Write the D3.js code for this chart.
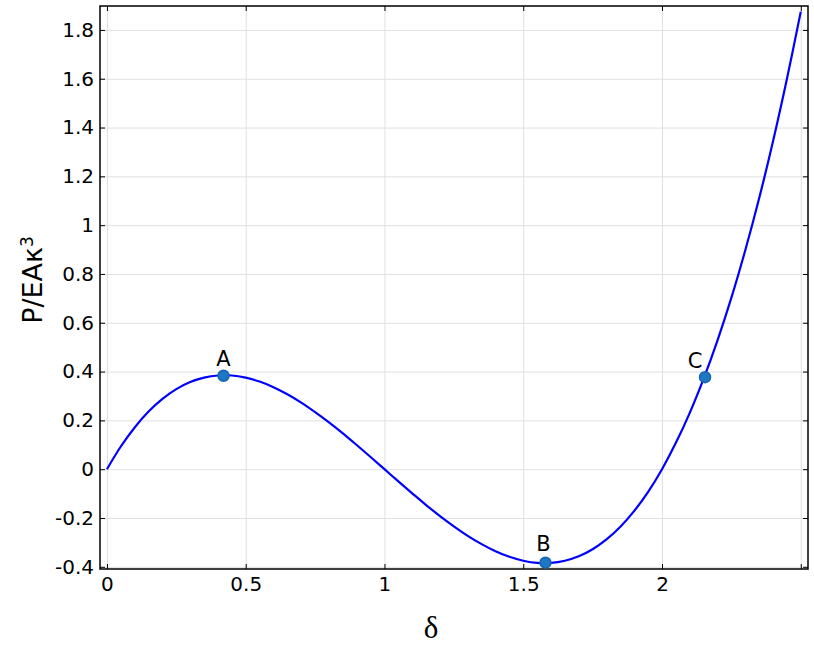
<!DOCTYPE html>
<meta charset="utf-8">
<style>
body { margin: 0; background: #fff; }
.grid .tick line { stroke: #e0e0e0; stroke-width: 1; }
.grid path { display: none; }
.frame { fill: none; stroke: #000; stroke-width: 1.5; }
.tick text { font-family: "DejaVu Sans", sans-serif; font-size: 20px; fill: #000; }
.tick line { stroke: #000; }
.curve { fill: none; stroke: #0000ff; stroke-width: 2.2; }
.pt { fill: #1f77c4; stroke: #1565b0; stroke-width: 1.5; }
.lbl { font-family: "DejaVu Sans", sans-serif; font-size: 21px; fill: #000; }
</style>
<svg width="814" height="664"></svg>
<script src="https://d3js.org/d3.v7.min.js"></script>
<script>
// curve samples
var delta = [0, 0.05, 0.1, 0.15, 0.2, 0.25, 0.3, 0.35, 0.4, 0.45, 0.5, 0.55, 0.6, 0.65, 0.7, 0.75, 0.8, 0.85, 0.9, 0.95,
             1, 1.05, 1.1, 1.15, 1.2, 1.25, 1.3, 1.35, 1.4, 1.45, 1.5, 1.55, 1.6, 1.65, 1.7, 1.75, 1.8, 1.85, 1.9, 1.95,
             2, 2.05, 2.1, 2.15, 2.2, 2.25, 2.3, 2.35, 2.4, 2.45, 2.5];
var load = [0, 0.093, 0.171, 0.236, 0.288, 0.328, 0.357, 0.375, 0.384, 0.384, 0.375, 0.359, 0.336, 0.307, 0.273, 0.234, 0.192, 0.147, 0.099, 0.050,
            0, -0.050, -0.099, -0.147, -0.192, -0.234, -0.273, -0.307, -0.336, -0.359, -0.375, -0.384, -0.384, -0.375, -0.357, -0.328, -0.288, -0.236, -0.171, -0.093,
            0, 0.108, 0.231, 0.371, 0.528, 0.703, 0.897, 1.110, 1.344, 1.599, 1.875];

var markNames = ["A", "B", "C"];
var markDelta = [0.42, 1.58, 2.155];
var markLoad = [0.383, -0.383, 0.377];

var xTicks = [0, 0.5, 1, 1.5, 2, 2.5];
var xTickLabels = ["0", "0.5", "1", "1.5", "2", ""];
var yTicks = [-0.4, -0.2, 0, 0.2, 0.4, 0.6, 0.8, 1, 1.2, 1.4, 1.6, 1.8];

var svg = d3.select("svg");
var mLeft = 100, mTop = 6, mRight = 808, mBottom = 569;

var x = d3.scaleLinear().domain([-0.025, 2.526]).range([mLeft, mRight]);
var y = d3.scaleLinear().domain([-0.409, 1.898]).range([mBottom, mTop]);

// grid
svg.append("g").attr("class", "grid")
    .attr("transform", "translate(0," + mBottom + ")")
    .call(d3.axisBottom(x).tickValues(xTicks).tickSize(-(mBottom - mTop)).tickFormat(""));
svg.append("g").attr("class", "grid")
    .attr("transform", "translate(" + mLeft + ",0)")
    .call(d3.axisLeft(y).tickValues(yTicks).tickSize(-(mRight - mLeft)).tickFormat(""));

// curve
var line = d3.line()
    .x(function(d, i) { return x(delta[i]); })
    .y(function(d, i) { return y(load[i]); })
    .curve(d3.curveCatmullRom);
svg.append("path").attr("class", "curve").datum(delta).attr("d", line);

// axes with inward ticks
var ax = svg.append("g").attr("transform", "translate(0," + mBottom + ")")
    .call(d3.axisBottom(x).tickValues(xTicks).tickSize(-5).tickPadding(12)
      .tickFormat(function(d, i) { return xTickLabels[i]; }));
var ay = svg.append("g").attr("transform", "translate(" + mLeft + ",0)")
    .call(d3.axisLeft(y).tickValues(yTicks).tickSize(-5).tickPadding(6)
      .tickFormat(function(d) { return String(d); }));
svg.append("g").attr("transform", "translate(0," + mTop + ")")
    .call(d3.axisTop(x).tickValues(xTicks).tickSize(-5).tickFormat(""));
svg.append("g").attr("transform", "translate(" + mRight + ",0)")
    .call(d3.axisRight(y).tickValues(yTicks).tickSize(-5).tickFormat(""));
svg.selectAll(".domain").remove();
ax.selectAll(".tick text").attr("dy", "0.5em");

svg.append("rect").attr("class", "frame")
    .attr("x", mLeft).attr("y", mTop).attr("width", mRight - mLeft).attr("height", mBottom - mTop);

// marked points
svg.selectAll(".pt").data(markNames).enter().append("circle")
    .attr("class", "pt")
    .attr("cx", function(d, i) { return x(markDelta[i]); })
    .attr("cy", function(d, i) { return y(markLoad[i]); })
    .attr("r", 5.5);
var offs = [[0, -10], [-2, -12], [-10, -9]];
svg.selectAll(".lbl").data(markNames).enter().append("text")
    .attr("class", "lbl")
    .attr("text-anchor", "middle")
    .attr("x", function(d, i) { return x(markDelta[i]) + offs[i][0]; })
    .attr("y", function(d, i) { return y(markLoad[i]) + offs[i][1]; })
    .text(function(d) { return d; });

// axis titles
svg.append("text")
    .attr("x", 431).attr("y", 638)
    .attr("text-anchor", "middle")
    .style("font-family", "'Liberation Serif', serif").style("font-size", "31px")
    .text("δ");
var yt = svg.append("text")
    .attr("transform", "translate(42,280) rotate(-90)")
    .attr("text-anchor", "middle")
    .style("font-family", "'DejaVu Sans', sans-serif").style("font-size", "27px");
yt.append("tspan").text("P/EAκ");
yt.append("tspan").attr("dy", "-0.55em").style("font-size", "17px").text("3");
</script>
